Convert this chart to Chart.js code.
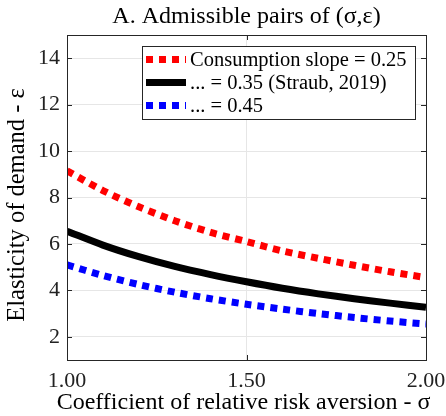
<!DOCTYPE html>
<html>
<head>
<meta charset="utf-8">
<script src="https://cdn.jsdelivr.net/npm/chart.js@4"></script>
<style>
  html, body { margin: 0; padding: 0; background: #fff; }
  #wrap { width: 446px; height: 416px; }
</style>
</head>
<body>
<div id="wrap"><canvas id="pairs"></canvas></div>
<script>
// Data
const sigma = [1.0, 1.1, 1.2, 1.3, 1.4, 1.5, 1.6, 1.7, 1.8, 1.9, 2.0];
const slope025 = [9.15, 8.30, 7.60, 7.00, 6.50, 6.10, 5.70, 5.38, 5.08, 4.80, 4.55];
const slope035 = [6.55, 5.95, 5.45, 5.03, 4.68, 4.37, 4.09, 3.85, 3.64, 3.45, 3.27];
const slope045 = [5.10, 4.64, 4.25, 3.92, 3.64, 3.40, 3.19, 3.00, 2.83, 2.68, 2.55];
const seriesLabels = ["Consumption slope = 0.25", "... = 0.35 (Straub, 2019)", "... = 0.45"];
const xTicks = [1.0, 1.5, 2.0];
const yTicks = [2, 4, 6, 8, 10, 12, 14];
const titleText = "A. Admissible pairs of (σ,ε)";
const xTitleText = "Coefficient of relative risk aversion - σ";
const yTitleText = "Elasticity of demand - ε";

const FONT = "'Liberation Serif', 'DejaVu Serif', serif";

function toPoints(values) {
    return sigma.map((s, i) => ({ x: s, y: values[i] }));
}

// Titles, axes box, inward tick marks and the legend
const framePlugin = {
    id: "frame",
    afterDatasetsDraw(chart) {
        const { ctx, chartArea: a } = chart;
        const xs = chart.scales.x, ys = chart.scales.y;
        ctx.save();

        // main title and x title, centred on the plot area
        ctx.fillStyle = "#000";
        ctx.textAlign = "center";
        ctx.textBaseline = "middle";
        ctx.font = "24px " + FONT;
        ctx.fillText(titleText, (a.left + a.right) / 2, 17);
        ctx.font = "24px " + FONT;
        ctx.fillText(xTitleText, (a.left + a.right) / 2 - 3, 403);

        // y axis title
        ctx.save();
        ctx.translate(18, 205);
        ctx.rotate(-Math.PI / 2);
        ctx.font = "24.5px " + FONT;
        ctx.fillText(yTitleText, 0, 0);
        ctx.restore();
        ctx.textAlign = "left";

        ctx.strokeStyle = "#262626";
        ctx.lineWidth = 1;
        ctx.beginPath();
        xTicks.forEach((v) => {
            const px = Math.round(xs.getPixelForValue(v)) + 0.5;
            ctx.moveTo(px, a.bottom); ctx.lineTo(px, a.bottom - 5);
            ctx.moveTo(px, a.top); ctx.lineTo(px, a.top + 5);
        });
        yTicks.forEach((v) => {
            const py = Math.round(ys.getPixelForValue(v)) + 0.5;
            ctx.moveTo(a.left, py); ctx.lineTo(a.left + 5, py);
            ctx.moveTo(a.right, py); ctx.lineTo(a.right - 5, py);
        });
        ctx.stroke();
        ctx.strokeRect(Math.round(a.left) + 0.5, Math.round(a.top) + 0.5,
            Math.round(a.width), Math.round(a.height));

        // legend
        const box = { x: 142.5, y: 46.5, w: 273, h: 73 };
        ctx.fillStyle = "#fff";
        ctx.fillRect(box.x, box.y, box.w, box.h);
        ctx.strokeRect(box.x, box.y, box.w, box.h);
        ctx.font = "20.5px " + FONT;
        chart.data.datasets.forEach((ds, i) => {
            const y = box.y + 13 + i * 23;
            ctx.beginPath();
            ctx.strokeStyle = ds.borderColor;
            ctx.lineWidth = ds.borderWidth;
            ctx.lineCap = "butt";
            ctx.setLineDash(ds.borderDash || []);
            ctx.moveTo(146, y); ctx.lineTo(186, y);
            ctx.stroke();
            ctx.setLineDash([]);
            ctx.fillStyle = "#000";
            ctx.fillText(ds.label, 190, y + 1);
        });
        ctx.restore();
    },
};

const ctx = document.getElementById("pairs").getContext("2d");
new Chart(ctx, {
    type: "line",
    data: {
        datasets: [
            {
                label: seriesLabels[0],
                data: toPoints(slope025),
                borderColor: "#ff0000",
                borderWidth: 7,
                borderDash: [7, 6],
                borderCapStyle: "butt",
                clip: 0,
            },
            {
                label: seriesLabels[1],
                data: toPoints(slope035),
                borderColor: "#000000",
                borderWidth: 7,
                clip: 0,
            },
            {
                label: seriesLabels[2],
                data: toPoints(slope045),
                borderColor: "#0000ff",
                borderWidth: 7,
                borderDash: [7, 6],
                borderCapStyle: "butt",
                clip: 0,
            },
        ],
    },
    options: {
        responsive: true,
        maintainAspectRatio: false,
        animation: false,
        devicePixelRatio: 1,
        layout: { padding: { right: 20, left: 0, top: 35, bottom: 0 } },
        elements: { point: { radius: 0 }, line: { tension: 0.3 } },
        plugins: {
            legend: { display: false },
            tooltip: { enabled: false },
        },
        scales: {
            x: {
                type: "linear",
                min: 1,
                max: 2,
                afterBuildTicks(scale) { scale.ticks = xTicks.map((v) => ({ value: v })); },
                afterFit(scale) {
                    scale.height = 56;
                    scale.paddingLeft = 0;
                    scale.paddingRight = 0;
                },
                ticks: {
                    color: "#222",
                    padding: 8,
                    font: { family: FONT, size: 22 },
                    callback: (v) => Number(v).toFixed(2),
                    maxRotation: 0,
                },
                grid: { color: "#e6e6e6", drawTicks: false },
                border: { display: false },
            },
            y: {
                min: 1,
                max: 15,
                afterBuildTicks(scale) { scale.ticks = yTicks.map((v) => ({ value: v })); },
                afterFit(scale) {
                    scale.width = 67;
                    scale.paddingTop = 0;
                    scale.paddingBottom = 0;
                },
                ticks: {
                    color: "#222",
                    padding: 7,
                    font: { family: FONT, size: 22 },
                },
                grid: { color: "#e6e6e6", drawTicks: false },
                border: { display: false },
            },
        },
    },
    plugins: [framePlugin],
});
</script>
</body>
</html>
